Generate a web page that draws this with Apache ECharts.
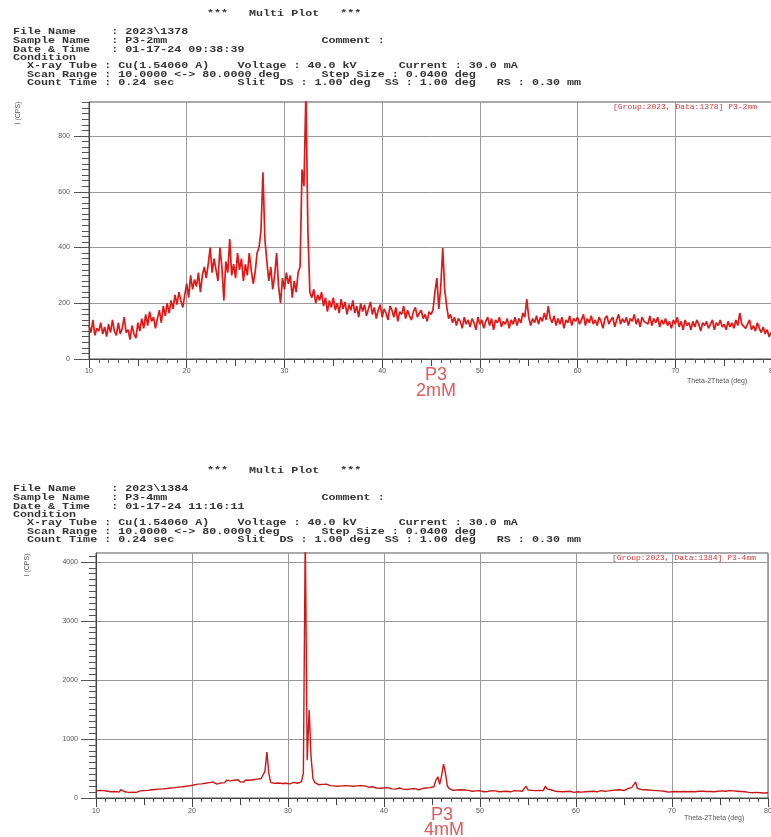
<!DOCTYPE html>
<html><head><meta charset="utf-8">
<script src="https://cdn.jsdelivr.net/npm/echarts@6/dist/echarts.min.js"></script>
<style>html,body{margin:0;padding:0;background:#fff}#c{width:771px;height:837px}</style>
</head><body><div id="c"></div>
<script>
// ---------------- data ----------------
const X_START = 10, X_STEP = 0.2;          // scan grid (deg 2θ)
const X_TICKS = [10, 20, 30, 40, 50, 60, 70, 80];
const Y_TICKS_2MM = [0, 200, 400, 600, 800];
const Y_TICKS_4MM = [0, 1000, 2000, 3000, 4000];

// P3 2mM intensity (CPS), one value per 0.2 deg from 10 to 80
const p3_2mM = [
 120, 95,140, 85,110,   100,130, 90,115, 80,   125, 95,140,100, 85,   130, 90,110,150, 95,
 105, 70,120, 90, 75,   130,100,145,110,160,   120,170,135,150,110,   145,175,130,190,155,
 200,165,210,180,230,   195,240,210,185,230,   270,220,300,250,285,   260,310,240,300,330,
 290,340,400,310,360,   320,280,400,330,210,   350,310,430,300,340,   290,380,320,360,280,
 340,300,380,320,270,   310,380,400,460,670,   430,350,280,330,250,   300,380,260,200,290,
 250,310,270,300,220,   280,240,310,330,680,   620,960,460,240,220,   250,200,230,210,240,
 190,220,170,210,185,   220,175,200,165,215,   180,205,160,195,175,   210,165,190,150,200,
 170,195,155,180,205,   160,185,145,175,195,   150,180,165,140,190,   175,150,185,135,170,
 160,190,145,175,155,   140,170,185,150,165,   175,145,160,135,170,   160,175,240,290,180,
 260,398,250,190,145,   160,130,150,120,145,   135,110,150,125,140,   115,145,130,105,150,
 125,140,110,135,150,   120,145,105,140,130,   150,115,135,125,145,   110,140,125,150,120,
 145,130,165,150,215,   150,120,145,130,155,   125,150,135,165,140,   190,145,130,155,120,
 145,125,150,110,140,   130,155,120,145,135,   150,125,140,160,120,   145,130,155,125,140,
 120,150,135,110,145,   155,125,140,150,115,   140,160,125,145,130,   150,120,145,135,160,
 125,145,115,150,135,   140,125,155,120,145,   130,150,115,140,125,   145,120,135,110,140,
 125,150,115,135,105,   140,120,130,105,135,   115,140,125,100,130,   120,135,110,125,140,
 105,130,120,140,115,   125,105,135,115,130,   110,140,120,165,125,   130,110,125,140,105,
 120,100,130,110, 95,   115, 90,105, 80, 95,
 75
];

// P3 4mM intensity (CPS), one value per 0.2 deg from 10 to 80
const p3_4mM = [
 120,105,130,110,125,   100,115,125,105,120,   110,130,100,140,115,   105,120, 95,110,100,
 115, 95,105,120,100,   125,110,130,120,140,   130,145,125,150,140,   155,140,160,150,170,
 160,175,165,185,170,   190,175,200,185,210,   195,220,210,235,220,   240,225,250,235,260,
 245,270,250,235,265,   255,280,260,300,270,   290,265,300,280,310,   275,295,270,305,285,
 300,275,310,290,320,   295,330,310,450,780,   420,260,290,250,275,   255,270,245,265,250,
 260,240,255,265,245,   250,260,275,420,4500,  640,1490,700,330,260,  240,225,250,230,215,
 235,220,210,225,205,   215,200,220,205,195,   210,195,205,190,200,   185,205,195,210,220,
 205,190,185,175,190,   180,170,185,165,175,   170,160,175,165,155,   165,150,160,170,155,
 150,160,145,165,155,   145,160,150,140,155,   160,145,170,155,175,   165,190,300,360,230,
 380,575,420,200,160,   145,130,150,135,125,   140,125,135,120,130,   125,115,130,120,110,
 125,115,105,120,110,   115,125,105,120,110,   105,120,110,100,115,   120,105,115,125,110,
 120,130,115,140,200,   135,120,130,115,125,   110,130,140,125,200,   150,125,140,120,115,
 125,110,120,105,115,   110,100,115,105, 95,   110,105,120,100,115,   105,120,110,125,115,
 120,105,115,125,110,   115,125,120,110,130,   120,135,125,140,130,   125,145,160,140,175,
 150,270,160,135,145,   130,140,125,135,120,   130,115,125,110,120,   105,115,110,100,112,
 105,100,110, 95,105,   100,110, 95,105,100,   110, 95,105,100,115,   105,115,100,110, 95,
 110,120,105,125,115,   140,120,130,115,135,   125,110,120,105,115,   100,110, 95,105,100,
  95,105, 90,100, 95,   100, 90, 95, 85, 95,
 90
];

// ---------------- texts ----------------
const TITLE = '***   Multi Plot   ***';
const HEADER_2MM = [
  'File Name     : 2023\\1378',
  'Sample Name   : P3-2mm'.padEnd(44) + 'Comment :',
  'Date & Time   : 01-17-24 09:38:39',
  'Condition',
  '  X-ray Tube : Cu(1.54060 A)    Voltage : 40.0 kV      Current : 30.0 mA',
  '  Scan Range : 10.0000 <-> 80.0000 deg      Step Size : 0.0400 deg',
  '  Count Time : 0.24 sec         Slit  DS : 1.00 deg  SS : 1.00 deg   RS : 0.30 mm'
];
const HEADER_4MM = [
  'File Name     : 2023\\1384',
  'Sample Name   : P3-4mm'.padEnd(44) + 'Comment :',
  'Date & Time   : 01-17-24 11:16:11',
  'Condition',
  '  X-ray Tube : Cu(1.54060 A)    Voltage : 40.0 kV      Current : 30.0 mA',
  '  Scan Range : 10.0000 <-> 80.0000 deg      Step Size : 0.0400 deg',
  '  Count Time : 0.24 sec         Slit  DS : 1.00 deg  SS : 1.00 deg   RS : 0.30 mm'
];
const TAG_2MM = '[Group:2023, Data:1378] P3-2mm';
const TAG_4MM = '[Group:2023, Data:1384] P3-4mm';
const Y_NAME = 'I (CPS)';
const X_NAME = 'Theta-2Theta (deg)';
const LABEL_2MM = ['P3', '2mM'];
const LABEL_4MM = ['P3', '4mM'];

// ---------------- chart ----------------
const toPairs = arr => arr.map((v, i) => [+(X_START + i * X_STEP).toFixed(2), v]);
const plain = v => String(v);

const AX = '#444', GRIDC = '#9a9a9a', LBL = '#555';
function mainX(gi, margin) {
  return {
    type: 'value', gridIndex: gi, min: 10, max: 80, interval: 10, position: 'bottom',
    axisLine: { show: true, onZero: false, lineStyle: { color: AX, width: 1 } },
    axisTick: { show: true, length: 9, lineStyle: { color: AX } },
    minorTick: { show: true, splitNumber: 10, length: 4, lineStyle: { color: '#555' } },
    axisLabel: { fontSize: 7, color: LBL, margin: margin, fontFamily: 'Liberation Sans',
                 customValues: X_TICKS, formatter: plain },
    splitLine: { show: true, lineStyle: { color: GRIDC, width: 1 } }
  };
}
function midX(gi) {
  return {
    type: 'value', gridIndex: gi, min: 10, max: 80, interval: 5, position: 'bottom',
    axisLine: { show: false }, axisLabel: { show: false }, splitLine: { show: false },
    axisTick: { show: true, length: 7, lineStyle: { color: AX } }
  };
}
function mainY(gi, max, interval, ticks, margin) {
  return {
    type: 'value', gridIndex: gi, min: 0, max: max, interval: interval,
    axisLine: { show: true, onZero: false, lineStyle: { color: AX, width: 1 } },
    axisTick: { show: true, length: 15, lineStyle: { color: '#555' }, customValues: ticks },
    minorTick: { show: true, splitNumber: 10, length: 7, lineStyle: { color: '#555' } },
    axisLabel: { fontSize: 7, color: LBL, margin: margin, fontFamily: 'Liberation Sans',
                 customValues: ticks, formatter: plain },
    splitLine: { show: true, lineStyle: { color: GRIDC, width: 1 } }
  };
}

const HF = 9.5, HSX = 1.23;
function txt(x, y, text, o) {
  o = o || {};
  return {
    type: 'text', x: x, y: y, z: 100, silent: true,
    scaleX: o.sx || 1, rotation: o.rot || 0,
    style: {
      text: text, x: 0, y: 0,
      fontSize: o.fs || 7, fontFamily: o.ff || 'Liberation Mono',
      fontWeight: o.fw || 'normal', fill: o.fill || '#333',
      textAlign: o.align || 'left', align: o.align || 'left',
      textVerticalAlign: 'middle', verticalAlign: 'middle'
    }
  };
}
const graphics = [];
function header(lines, title, dy) {
  graphics.push(txt(207, 14 + dy, title, { fs: HF, sx: HSX, fw: 'bold', fill: '#333' }));
  const ys = [32, 41, 49.5, 58, 66, 74.5, 83];
  lines.forEach((l, i) => graphics.push(txt(13, ys[i] + dy, l, { fs: HF, sx: HSX, fw: 'bold', fill: '#333' })));
}
header(HEADER_2MM, TITLE, 0);
header(HEADER_4MM, TITLE, 457);

graphics.push(txt(18, 113, Y_NAME, { fs: 7, ff: 'Liberation Sans', rot: Math.PI / 2, align: 'center', fill: '#555' }));
graphics.push(txt(27, 565, Y_NAME, { fs: 7, ff: 'Liberation Sans', rot: Math.PI / 2, align: 'center', fill: '#555' }));
graphics.push(txt(687, 381, X_NAME, { fs: 7, ff: 'Liberation Sans', fill: '#555' }));
graphics.push(txt(684, 818, X_NAME, { fs: 7, ff: 'Liberation Sans', fill: '#555' }));
graphics.push(txt(613, 107, TAG_2MM, { fs: 8, fill: '#cc3b3b' }));
graphics.push(txt(612, 558, TAG_4MM, { fs: 8, fill: '#cc3b3b' }));
graphics.push(txt(436, 375, LABEL_2MM[0], { fs: 18, ff: 'Liberation Sans', align: 'center', fill: '#e05a5a' }));
graphics.push(txt(436, 391, LABEL_2MM[1], { fs: 18, ff: 'Liberation Sans', align: 'center', fill: '#e05a5a' }));
graphics.push(txt(442, 815, LABEL_4MM[0], { fs: 18, ff: 'Liberation Sans', align: 'center', fill: '#e05a5a' }));
graphics.push(txt(444, 830, LABEL_4MM[1], { fs: 18, ff: 'Liberation Sans', align: 'center', fill: '#e05a5a' }));

const chart = echarts.init(document.getElementById('c'), null, { renderer: 'canvas' });
chart.setOption({
  animation: false,
  backgroundColor: '#fff',
  grid: [
    { left: 89, top: 102, width: 684, height: 257, show: true, borderColor: '#555', borderWidth: 1,
      containLabel: false, outerBoundsMode: 'none' },
    { left: 96, top: 553, width: 672, height: 245, show: true, borderColor: '#555', borderWidth: 1,
      containLabel: false, outerBoundsMode: 'none' }
  ],
  xAxis: [mainX(0, 9), midX(0), mainX(1, 10), midX(1)],
  yAxis: [mainY(0, 922, 200, Y_TICKS_2MM, 19), mainY(1, 4150, 1000, Y_TICKS_4MM, 18)],
  series: [
    { type: 'line', xAxisIndex: 0, yAxisIndex: 0, data: toPairs(p3_2mM), showSymbol: false, symbol: 'none',
      clip: true, lineStyle: { color: '#dc1a1a', width: 1.7 } },
    { type: 'line', xAxisIndex: 2, yAxisIndex: 1, data: toPairs(p3_4mM), showSymbol: false, symbol: 'none',
      clip: true, lineStyle: { color: '#c81818', width: 1.4 } }
  ],
  graphic: graphics
});
</script>
</body></html>
